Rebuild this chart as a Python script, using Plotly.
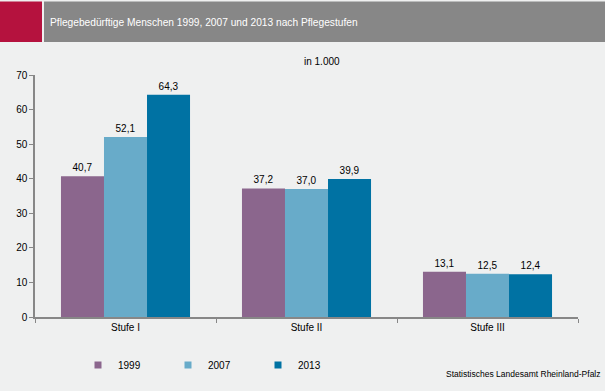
import plotly.graph_objects as go

categories = ["Stufe I", "Stufe II", "Stufe III"]
years = ["1999", "2007", "2013"]
values_1999 = [40.7, 37.2, 13.1]
values_2007 = [52.1, 37.0, 12.5]
values_2013 = [64.3, 39.9, 12.4]
colors = ["#8b668d", "#68abc9", "#0072a3"]
y_ticks = [0, 10, 20, 30, 40, 50, 60, 70]

W, H = 605, 391
L, R, T, B = 35, 27, 74.5, 71.5
PW, PH = W - L - R, H - T - B

def px(x):
    return (x - L) / PW

def py(y):
    return (H - B - y) / PH

BG = "#eff0f0"
FONT = "Liberation Sans, Arial, sans-serif"

fig = go.Figure()
for yr, vals, col in zip(years, [values_1999, values_2007, values_2013], colors):
    fig.add_trace(go.Bar(
        name=yr, x=categories, y=vals, marker=dict(color=col, line=dict(width=0)),
        text=[f"{v:.1f}".replace(".", ",") for v in vals],
        textposition="outside", textfont=dict(size=10, color="#000000", family=FONT),
        cliponaxis=False, showlegend=False, hoverinfo="skip",
    ))
    fig.add_trace(go.Scatter(
        name=yr, x=[None], y=[None], mode="markers",
        marker=dict(symbol="square", size=7, color=col), showlegend=True,
    ))

shapes = [
    dict(type="rect", xref="paper", yref="paper", x0=px(0), x1=px(42), y0=py(41), y1=py(0),
         fillcolor="#b5123e", line=dict(width=0), layer="below"),
    dict(type="rect", xref="paper", yref="paper", x0=px(44), x1=px(605), y0=py(41), y1=py(0),
         fillcolor="#878787", line=dict(width=0), layer="below"),
]

annotations = [
    dict(text="Pflegebedürftige Menschen 1999, 2007 und 2013 nach Pflegestufen",
         xref="paper", yref="paper", x=px(48), y=py(21), xanchor="left", yanchor="middle",
         showarrow=False, font=dict(size=10.2, color="#ffffff", family=FONT)),
    dict(text="in 1.000", xref="paper", yref="paper", x=px(322), y=py(61),
         xanchor="center", yanchor="middle", showarrow=False,
         font=dict(size=10, color="#000000", family=FONT)),
    dict(text="Statistisches Landesamt Rheinland-Pfalz", xref="paper", yref="paper",
         x=px(603), y=py(377), xanchor="right", yanchor="middle", showarrow=False,
         font=dict(size=8.5, color="#000000", family=FONT)),
]

fig.update_layout(
    width=W, height=H,
    margin=dict(l=L, r=R, t=T, b=B, pad=0),
    paper_bgcolor=BG, plot_bgcolor=BG,
    barmode="group", bargap=0.287, bargroupgap=0,
    font=dict(family=FONT, size=10, color="#000000"),
    shapes=shapes, annotations=annotations,
    showlegend=True,
    legend=dict(orientation="h", x=px(78), y=py(368), xanchor="left", yanchor="middle",
                entrywidth=45, font=dict(size=10, family=FONT), bgcolor="rgba(0,0,0,0)",
                itemwidth=30, tracegroupgap=0),
    xaxis=dict(type="category", showline=True, linecolor="#878787", linewidth=2,
               ticks="outside", tickson="boundaries", ticklen=4, tickcolor="#878787",
               tickwidth=1, showgrid=False, zeroline=False,
               tickfont=dict(size=10, family=FONT, color="#000000")),
    yaxis=dict(range=[0, 70], tickvals=y_ticks, showline=True, linecolor="#878787",
               linewidth=1.5, ticks="outside", ticklen=4, tickcolor="#878787",
               showgrid=False, zeroline=False,
               tickfont=dict(size=10, family=FONT, color="#000000")),
)

fig.write_html(
    "out.html",
    config={"displayModeBar": False},
    post_script="document.body.style.margin='0';document.body.style.padding='0';"
                "document.body.style.background='" + BG + "';",
)
